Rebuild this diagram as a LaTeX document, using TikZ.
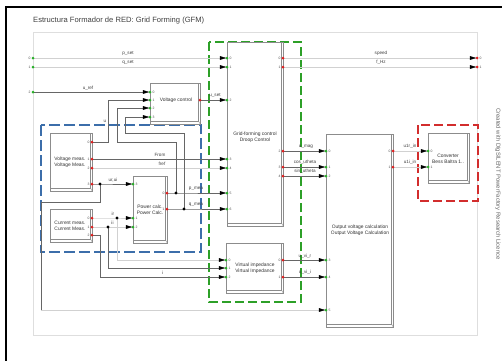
\documentclass[tikz,border=0pt]{standalone}
\usepackage{fontspec}
\setmainfont{Liberation Sans}
\usetikzlibrary{arrows.meta}
\definecolor{gfmgreen}{RGB}{45,160,40}
\definecolor{gfmblue}{RGB}{60,110,170}
\definecolor{gfmred}{RGB}{210,45,45}
\definecolor{indot}{RGB}{40,175,40}
\definecolor{outdot}{RGB}{225,30,30}
\begin{document}
\begin{tikzpicture}[x=1pt,y=-1pt,
  blk/.style={draw=black!45,fill=white,line width=0.5pt,inner sep=0pt,anchor=north west},
  bev/.style={draw=black!45,line width=0.4pt},
  wire/.style={draw=black!60,line width=0.45pt},
  lwire/.style={draw=black!18,line width=0.45pt},
  arr/.style={-{Triangle[length=6.5pt,width=3.6pt,color=black]},shorten >=0.6pt},
  lab/.style={font=\fontsize{4.6}{5}\selectfont,text=black!75,inner sep=0pt},
  plab/.style={font=\fontsize{3.4}{4}\selectfont,text=black!70,inner sep=0pt},
  btxt/.style={font=\fontsize{4.9}{5.6}\selectfont,text=black!80,align=center,inner sep=0pt},
  jdot/.style={fill=black},
]
\useasboundingbox (0,0) rectangle (502,360);
\fill[white] (0,0) rectangle (502,360);

% outer frame and sheet
\draw[line width=2pt] (6,362) -- (6,7) -- (504,7);
\draw[draw=black!13,line width=0.7pt] (33,32) rectangle (477,335);
\node[anchor=west,inner sep=0pt,font=\fontsize{7.6}{9}\selectfont,text=black!75] (title) at (33,21) {Estructura Formador de RED: Grid Forming (GFM)};
\node[rotate=-90,inner sep=0pt,font=\fontsize{5.9}{7}\selectfont,text=black!60] (lic) at (498,184) {Created with DIgSILENT PowerFactory Research Licence};

% dashed groups
\draw[gfmgreen,line width=1.3pt,dash pattern=on 9pt off 4pt] (209,42) rectangle (301,302);
\draw[gfmblue,line width=1.3pt,dash pattern=on 11pt off 4pt] (41,125) rectangle (201,252);
\draw[gfmred,line width=1.3pt,dash pattern=on 9pt off 4pt] (418,125) rectangle (478,201);

% blocks
\foreach \n/\x/\y/\w/\h in {vc/150/83/50/41, gfc/227/42/56/184, vi/226/243/57/50, ovc/326/134/67/193, conv/428/133/41/50, vm/50/133/42/58, cm/50/209/42/33, pc/133/176/34/67}{
  \node[blk,minimum width=\w pt,minimum height=\h pt] (\n) at (\x,\y) {};
  \draw[bev] ([yshift=3.5pt]\n.south west) -- ([xshift=-2pt,yshift=3.5pt]\n.south east) -- ([xshift=-2pt]\n.north east);
  \draw[bev] ([xshift=-2pt,yshift=3.5pt]\n.south east) -- (\n.south east);
}
\node[btxt] (vct) at (176,100.5) {Voltage control};
\node[btxt] (gfct) at (255,137.5) {Grid-forming control\\Droop Control};
\node[btxt] (vit) at (255,268) {Virtual impedance\\Virtual Impedance};
\node[btxt] (ovct) at (360,230) {Output voltage calculation\\Output Voltage Calculation};
\node[btxt] (convt) at (448,159) {Converter\\Bess Baltra 1..};
\node[btxt] (vmt) at (70,162.5) {Voltage meas.\\Voltage Meas.};
\node[btxt] (cmt) at (70,226) {Current meas.\\Current Meas.};
\node[btxt] (pct) at (150,210) {Power calc.\\Power Calc.};

% ports
\foreach \n/\x/\y in {f0/33/58, f1/33/67, f2/33/92, e0/477/58, e1/477/67,
  g0/227/58, g1/227/67, g2/227/100, g3/227/159, g4/227/168, g5/227/193, g6/227/209,
  go0/283/58, go1/283/67, go2/283/151, go3/283/167, go4/283/176,
  v0/150/92, v1/150/100, v2/150/108, v3/150/117, vo/200/100,
  m0/92/142, m1/92/159, m2/92/168, m3/92/184,
  c0/92/218, c1/92/227, c2/92/235,
  p3/133/184, p1/133/218, p2/133/227, po0/167/193, po1/167/209,
  i0/226/260, i1/226/268, i2/226/277, io0/283/260, io1/283/277,
  o0/326/151, o1/326/167, o2/326/176, o3/326/260, o4/326/277, o5/326/310,
  oo0/393/151, oo1/393/167, k0/428/151, k1/428/167,
  J1/100/184, J2/117/218, J3/108/227, J4/176/193, J5/184/209}{
  \coordinate (\n) at (\x,\y);
}

% connectors
\draw[lwire,arr] (f0) -- (g0);
\draw[lwire,arr] (f1) -- (g1);
\draw[wire,arr] (f2) -- (v0);
\draw[wire,arr] (vo) -- (g2);
\draw[wire,arr] (m0) -- (108,142) -- (108,100) -- (v1);
\draw[wire,arr] (m1) -- (g3);
\draw[lwire,arr] (m2) -- (g4);
\draw[wire,arr] (m3) -- (J1) -- (p3);
\draw[wire] (J1) -- (100,202) -- (41,202) -- (41,310);
\draw[lwire,arr] (41,310) -- (o5);
\draw[lwire,arr] (c0) -- (J2) -- (p1);
\draw[lwire,arr] (J2) -- (117,260) -- (i0);
\draw[lwire,arr] (c1) -- (J3) -- (p2);
\draw[wire,arr] (J3) -- (108,268) -- (i1);
\draw[wire,arr] (c2) -- (100,235) -- (100,277) -- (i2);
\draw[wire,arr] (po0) -- (J4) -- (g5);
\draw[wire,arr] (J4) -- (176,142) -- (117,142) -- (117,108) -- (v2);
\draw[wire,arr] (po1) -- (J5) -- (g6);
\draw[wire,arr] (J5) -- (184,133) -- (125,133) -- (125,117) -- (v3);
\draw[lwire,arr] (go0) -- (e0);
\draw[lwire,arr] (go1) -- (e1);
\draw[wire,arr] (go2) -- (o0);
\draw[wire,arr] (go3) -- (o1);
\draw[wire,arr] (go4) -- (o2);
\draw[wire,arr] (io0) -- (o3);
\draw[wire,arr] (io1) -- (o4);
\draw[lwire,arr] (oo0) -- (k0);
\draw[lwire,arr] (oo1) -- (k1);

% junction dots
\foreach \n in {J1,J2,J3,J4,J5}{ \fill[jdot] (\n) circle (1.6pt); }

% input ports: green, label right
\foreach \n/\t in {g0/0,g1/1,g2/2,g3/3,g4/4,g5/5,g6/6,v0/0,v1/1,v2/2,v3/3,p3/3,p1/1,p2/2,i0/0,i1/1,i2/2,o0/0,o1/1,o2/2,o3/3,o4/4,o5/5,k0/0,k1/1}{
  \fill[indot] (\n) circle (1.5pt);
  \node[plab,anchor=west] (l-\n) at ([xshift=2.4pt]\n) {\t};
}
% sheet inputs: green, label left
\foreach \n/\t in {f0/0,f1/1,f2/2}{
  \fill[indot] (\n) circle (1.5pt);
  \node[plab,anchor=east] (l-\n) at ([xshift=-2.4pt]\n) {\t};
}
% outputs: red, label left
\foreach \n/\t in {go0/0,go1/1,go2/2,go3/3,go4/4,m0/0,m1/1,m2/2,m3/3,c0/0,c1/1,c2/2,po0/0,po1/1,io0/0,io1/1,oo0/0,oo1/1}{
  \fill[outdot] (\n) circle (1.5pt);
  \node[plab,anchor=east] (l-\n) at ([xshift=-2.4pt]\n) {\t};
}
\fill[outdot] (vo) circle (1.5pt);
% sheet outputs: red, label right
\foreach \n/\t in {e0/0,e1/1}{
  \fill[outdot] (\n) circle (1.5pt);
  \node[plab,anchor=west] (l-\n) at ([xshift=2.4pt]\n) {\t};
}

% connector labels
\node[lab] (t1) at (128,53.5) {p\_set};
\node[lab] (t2) at (128,62) {q\_set};
\node[lab] (t3) at (381,53.5) {speed};
\node[lab] (t4) at (381,62) {f\_Hz};
\node[lab] (t5) at (88,88) {u\_ref};
\node[lab] (t6) at (215,95.5) {u\_set};
\node[lab] (t7) at (160,155) {From};
\node[lab] (t8) at (162,164) {fref};
\node[lab] (t9) at (113,180) {ur,ui};
\node[lab] (t10) at (113,214) {ir};
\node[lab] (t11) at (112.5,222.5) {ii};
\node[lab] (t12) at (163,273) {i};
\node[lab] (t13) at (196,189) {p\_mea};
\node[lab] (t14) at (196,205) {q\_mea};
\node[lab] (t15) at (105,121) {u};
\node[lab] (t16) at (306,146.5) {u\_mag};
\node[lab] (t17) at (305,162.5) {cos\_utheta};
\node[lab] (t18) at (305,171.5) {sin\_utheta};
\node[lab] (t19) at (305,256) {u\_vi\_r};
\node[lab] (t20) at (305,272.5) {u\_vi\_i};
\node[lab] (t21) at (410,146) {u1r\_in};
\node[lab] (t22) at (410,162) {u1i\_in};
\end{tikzpicture}
\end{document}
